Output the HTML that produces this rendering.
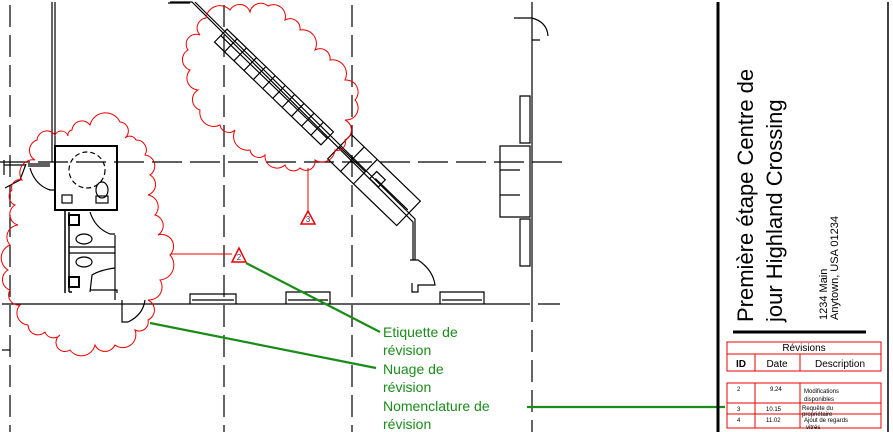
<!DOCTYPE html>
<html><head><meta charset="utf-8"><style>
html,body{margin:0;padding:0;background:#fff;}
svg{display:block;}
text{font-family:"Liberation Sans",sans-serif;}
</style></head><body>
<svg width="893" height="432" viewBox="0 0 893 432" xmlns="http://www.w3.org/2000/svg">
<g fill="none" stroke="#000" stroke-width="1.2">
<line x1="10" y1="5" x2="10" y2="432" stroke-dasharray="22,8"/>
<line x1="224" y1="5" x2="224" y2="432" stroke-dasharray="22,8"/>
<line x1="352" y1="5" x2="352" y2="432" stroke-dasharray="22,8"/>
<line x1="532" y1="2" x2="532" y2="300"/>
<line x1="532" y1="300" x2="532" y2="432" stroke-dasharray="22,8"/>
<line x1="0" y1="162" x2="565" y2="162" stroke-dasharray="30,8"/>
<line x1="2" y1="304" x2="530" y2="304"/>
<line x1="538" y1="304" x2="560" y2="304"/>
<line x1="2" y1="350" x2="10" y2="350"/>
<line x1="52" y1="2" x2="52" y2="162"/><line x1="55" y1="2" x2="55" y2="146"/>
<rect x="55" y="146" width="62" height="64" stroke-width="2"/>
<path d="M4 160 V175 M4 165 L26 165 M28 164 L50 164 M28 166 L50 166" />
<path d="M26 164 L20 180 L5 188" />
<path d="M30 168 Q35 185 50 190 L55 190"/>
<circle cx="87" cy="170" r="18" stroke-dasharray="5,3"/>
<rect x="62" y="195" width="10" height="8"/>
<ellipse cx="102" cy="190" rx="6" ry="8"/><rect x="96" y="196" width="12" height="7"/>
<path d="M65 210 V293 M69 212 V292 M69 292 H72" stroke-width="1.5"/>
<rect x="69" y="215" width="10" height="10" stroke-width="2"/>
<rect x="69" y="277" width="10" height="10" stroke-width="2"/>
<path d="M69 247 H115 M69 253 H115 M115 235 V300" />
<ellipse cx="84" cy="239" rx="8" ry="5"/><ellipse cx="84" cy="262" rx="8" ry="5"/>
<path d="M90 212 Q95 228 110 234 H115 M90 292 L92 275 Q100 270 115 268 M90 290 H117 V293"/>
<path d="M122 300 V322 L128 322 Q143 315 145 300"/>
<path d="M170 2 H192 L413 222 V260 M168 3 H190"/>
<path d="M195 2 L415 219 V260"/>
<path d="M410 260 H418 Q433 270 435 285 H418 V292 H412 V283" />
<g transform="translate(274,87) rotate(44)">
<rect x="-74" y="-9" width="148" height="18"/>
<line x1="-74" y1="0" x2="74" y2="0"/>
<path d="M-60 -9V9M-47 -9V9M-33 -9V9M-20 -9V9M-7 -9V9M7 -9V9M20 -9V9M33 -9V9M47 -9V9M60 -9V9"/>
</g>
<g transform="translate(374,180) rotate(44)">
<rect x="-48" y="-17" width="96" height="34"/>
<path d="M-30 -17V17M-12 -17V17M-48 0H-12M0 -2H45" />
<rect x="-4" y="-8" width="12" height="10"/>
</g>
<path d="M520 96 H530 V143 H520 Z M500 146 H530 V217 H500 Z M500 170 H520 M500 195 H520 M520 219 H530 V266 H520 Z"/>
<path d="M514 18 H532 M532 18 Q547 22 548 36 M532 40 H540"/>
<path d="M190 304 V294 H236 V304 M192 300 H234 M286 304 V292 H330 V304 M288 300 H328 M440 304 V292 H484 V304 M442 300 H482"/>
</g>
<g fill="none" stroke="#e00" stroke-width="1">
<path d="M35 160 A11 11 0 0 1 37 140 A10 10 0 0 1 55 135 A7 7 0 0 1 68 136 A5 5 0 0 1 72 130 A10 10 0 0 1 90 125 A16 16 0 0 1 120 122 A9 9 0 0 1 125 138 A7 7 0 0 1 136 140 A10 10 0 0 1 145 155 A11 11 0 0 1 150 175 A11 11 0 0 1 148 195 A12 12 0 0 1 155 215 A11 11 0 0 1 158 235 A12 12 0 0 1 170 255 A15 15 0 0 1 160 280 A13 13 0 0 1 148 300 A11 11 0 0 1 148 320 A9 9 0 0 1 135 330 A13 13 0 0 1 115 345 A11 11 0 0 1 95 345 A14 14 0 0 1 70 350 A9 9 0 0 1 60 335 A9 9 0 0 1 45 332 A10 10 0 0 1 28 325 A12 12 0 0 1 20 305 A10 10 0 0 1 10 290 A11 11 0 0 1 8 270 A14 14 0 0 1 10 245 A12 12 0 0 1 18 225 A11 11 0 0 1 15 205 A9 9 0 0 1 12 190 A8 8 0 0 1 22 180 A13 13 0 0 1 35 160 Z"/>
<path d="M206 18 A14 14 0 0 1 230 10 A11 11 0 0 1 250 12 A11 11 0 0 1 268 6 A12 12 0 0 1 285 20 A10 10 0 0 1 300 30 A14 14 0 0 1 315 50 A10 10 0 0 1 330 60 A14 14 0 0 1 345 80 A12 12 0 0 1 355 100 A12 12 0 0 1 345 120 A11 11 0 0 1 345 140 A8 8 0 0 1 335 150 A13 13 0 0 1 315 160 A9 9 0 0 1 300 168 A9 9 0 0 1 285 165 A12 12 0 0 1 265 155 A9 9 0 0 1 250 150 A14 14 0 0 1 235 130 A9 9 0 0 1 220 125 A14 14 0 0 1 200 110 A11 11 0 0 1 198 90 A12 12 0 0 1 190 70 A11 11 0 0 1 188 50 A10 10 0 0 1 200 35 A10 10 0 0 1 206 18 Z"/>
<line x1="308" y1="168" x2="308" y2="211"/>
<line x1="171" y1="254" x2="232" y2="254"/>
<path d="M301 224 L308 211 L315 224 Z" stroke-width="1.5"/>
<path d="M232 262 L239 248 L246 262 Z" stroke-width="1.5"/>
</g>
<text x="308" y="222" font-size="8" text-anchor="middle" fill="#336">3</text>
<text x="239" y="260" font-size="8" text-anchor="middle" fill="#336">2</text>
<g stroke="#1a8c1a" stroke-width="2.2" fill="none">
<line x1="246" y1="263" x2="380" y2="332"/>
<line x1="150" y1="323" x2="376" y2="368"/>
<line x1="527" y1="407" x2="725" y2="407"/>
</g>
<g fill="#1a8c1a" font-size="14">
<text x="383" y="337">Etiquette de</text>
<text x="383" y="355">révision</text>
<text x="383" y="374">Nuage de</text>
<text x="383" y="392">révision</text>
<text x="383" y="411">Nomenclature de</text>
<text x="383" y="429">révision</text>
</g>
<line x1="718" y1="2" x2="718" y2="432" stroke="#000" stroke-width="3"/>
<line x1="888" y1="2" x2="888" y2="432" stroke="#000" stroke-width="1.5"/>
<line x1="733" y1="332" x2="866" y2="332" stroke="#000" stroke-width="3"/>
<g font-size="22" fill="#000">
<text transform="translate(753,322) rotate(-90)">Première étape Centre de</text>
<text transform="translate(782,322) rotate(-90)">jour Highland Crossing</text>
</g>
<g font-size="11" fill="#000">
<text transform="translate(827,320) rotate(-90)">1234 Main</text>
<text transform="translate(838,320) rotate(-90)">Anytown, USA 01234</text>
</g>
<g stroke="#e00" fill="none" stroke-width="1">
<rect x="727" y="342" width="154" height="12"/>
<rect x="727" y="354" width="154" height="17"/>
<line x1="755" y1="354" x2="755" y2="371"/><line x1="800" y1="354" x2="800" y2="371"/>
<rect x="727" y="383" width="154" height="45"/>
<line x1="727" y1="403" x2="881" y2="403"/><line x1="727" y1="414" x2="881" y2="414"/>
<line x1="755" y1="383" x2="755" y2="428"/><line x1="800" y1="383" x2="800" y2="428"/>
</g>
<g fill="#000">
<text x="804" y="351" font-size="10" text-anchor="middle">Révisions</text>
<text x="741" y="367" font-size="10" text-anchor="middle" font-weight="bold">ID</text>
<text x="777" y="367" font-size="10" text-anchor="middle">Date</text>
<text x="840" y="367" font-size="10" text-anchor="middle">Description</text>
<g font-size="6">
<text x="737" y="391">2</text><text x="770" y="391">9.24</text>
<text x="804" y="393">Modifications</text><text x="804" y="401">disponibles</text>
<text x="737" y="411">3</text><text x="766" y="411">10.15</text>
<text x="802" y="410">Requête du</text><text x="802" y="416">propriétaire</text>
<text x="737" y="422">4</text><text x="766" y="422">11.02</text>
<text x="804" y="422">Ajout de regards</text><text x="806" y="429">vitrés</text>
</g>
</g>
</svg>
</body></html>
